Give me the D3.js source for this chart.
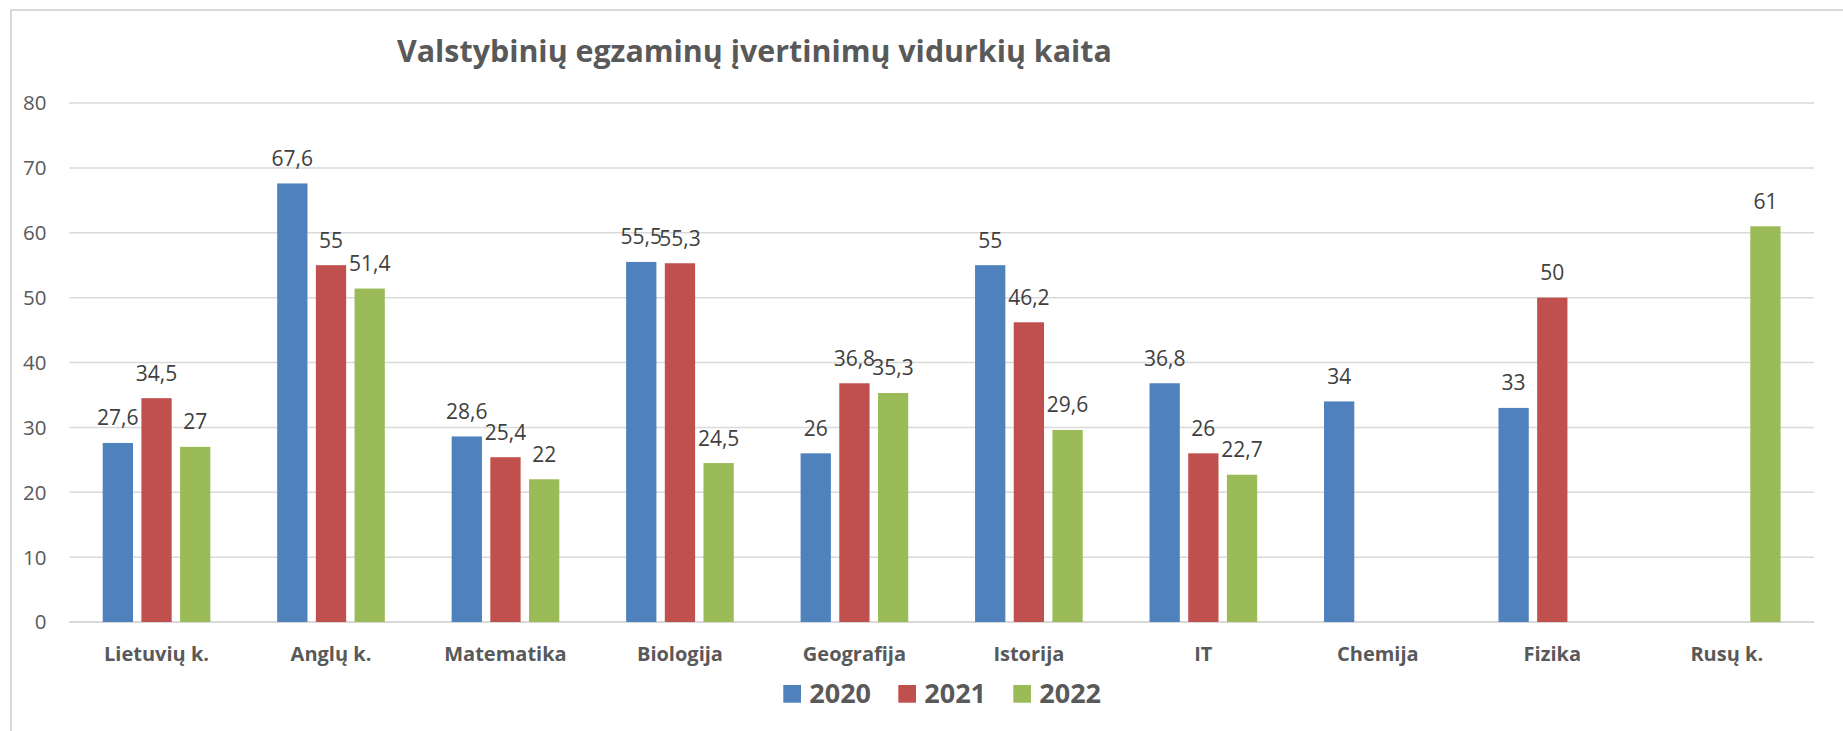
<!DOCTYPE html>
<html>
<head>
<meta charset="utf-8">
<script src="https://cdn.jsdelivr.net/npm/d3@7"></script>
<style>
  html, body { margin: 0; padding: 0; background: #fff; }
  svg { display: block; }
  text { font-family: "Open Sans", "Noto Sans", sans-serif; }
</style>
</head>
<body>
<svg id="chart" width="1843" height="731"></svg>
<script>
const title = "Valstybinių egzaminų įvertinimų vidurkių kaita";
const categories = ["Lietuvių k.", "Anglų k.", "Matematika", "Biologija", "Geografija", "Istorija", "IT", "Chemija", "Fizika", "Rusų k."];
const seriesNames = ["2020", "2021", "2022"];
const values2020 = [27.6, 67.6, 28.6, 55.5, 26, 55, 36.8, 34, 33, null];
const values2021 = [34.5, 55, 25.4, 55.3, 36.8, 46.2, 26, null, 50, null];
const values2022 = [27, 51.4, 22, 24.5, 35.3, 29.6, 22.7, null, null, 61];
const yTicks = [0, 10, 20, 30, 40, 50, 60, 70, 80];
const colors = ["#4F81BD", "#C0504D", "#9BBB59"];

const seriesValues = [values2020, values2021, values2022];

const svg = d3.select("#chart");
svg.append("rect").attr("width", 1843).attr("height", 731).attr("fill", "#fff");

// chart border (extends beyond right/bottom of the frame)
svg.append("rect")
  .attr("x", 11).attr("y", 10)
  .attr("width", 1860).attr("height", 760)
  .attr("fill", "none").attr("stroke", "#d9d9d9").attr("stroke-width", 2);

const plotLeft = 69.3, plotRight = 1814, y0 = 622, y80 = 103;

const x = d3.scaleBand().domain(categories).range([plotLeft, plotRight])
  .paddingInner(0.383).paddingOuter(0.1915);
const xs = d3.scaleBand().domain(seriesNames).range([0, x.bandwidth()])
  .paddingInner(0.217).paddingOuter(0);
const y = d3.scaleLinear().domain([0, 80]).range([y0, y80]);

// gridlines
svg.append("g").selectAll("line").data(yTicks).join("line")
  .attr("x1", plotLeft).attr("x2", plotRight)
  .attr("y1", d => y(d)).attr("y2", d => y(d))
  .attr("stroke", "#d9d9d9").attr("stroke-width", d => d === 0 ? 2 : 1.5);

// y tick labels
svg.append("g").selectAll("text").data(yTicks).join("text")
  .attr("x", 46.5).attr("y", d => y(d))
  .attr("dy", "0.36em")
  .attr("text-anchor", "end")
  .attr("font-size", 20.5)
  .attr("fill", "#595959")
  .text(d => d);

// bars
const fmt = v => String(v).replace(".", ",");
const barData = [];
categories.forEach((c, i) => {
  seriesNames.forEach((s, j) => {
    const v = seriesValues[j][i];
    if (v !== null && v !== undefined) barData.push({ c, s, j, v });
  });
});

svg.append("g").selectAll("rect").data(barData).join("rect")
  .attr("x", d => x(d.c) + xs(d.s))
  .attr("y", d => y(d.v))
  .attr("width", xs.bandwidth())
  .attr("height", d => y(0) - y(d.v))
  .attr("fill", d => colors[d.j]);

// data labels
svg.append("g").selectAll("text").data(barData).join("text")
  .attr("x", d => x(d.c) + xs(d.s) + xs.bandwidth() / 2)
  .attr("y", d => y(d.v) - 17.5)
  .attr("text-anchor", "middle")
  .attr("font-size", 21)
  .attr("fill", "#404040")
  .text(d => fmt(d.v));

// x category labels
svg.append("g").selectAll("text").data(categories).join("text")
  .attr("x", d => x(d) + x.bandwidth() / 2)
  .attr("y", 660.5)
  .attr("text-anchor", "middle")
  .attr("font-size", 20)
  .attr("font-weight", "bold")
  .attr("fill", "#595959")
  .text(d => d);

// title, fitted to the reference width
const t = svg.append("text")
  .attr("x", 397).attr("y", 62.3)
  .attr("font-size", 30)
  .attr("font-weight", "bold")
  .attr("fill", "#595959")
  .text(title);
const tw = t.node().getComputedTextLength();
t.attr("font-size", 30 * 715 / tw);

// legend
const legend = svg.append("g");
seriesNames.forEach((s, j) => {
  const lx = 783.3 + j * 115;
  legend.append("rect")
    .attr("x", lx).attr("y", 685)
    .attr("width", 17.7).attr("height", 17.7)
    .attr("fill", colors[j]);
  legend.append("text")
    .attr("x", lx + 26).attr("y", 703)
    .attr("font-size", 27)
    .attr("font-weight", "bold")
    .attr("fill", "#595959")
    .text(s);
});
</script>
</body>
</html>
